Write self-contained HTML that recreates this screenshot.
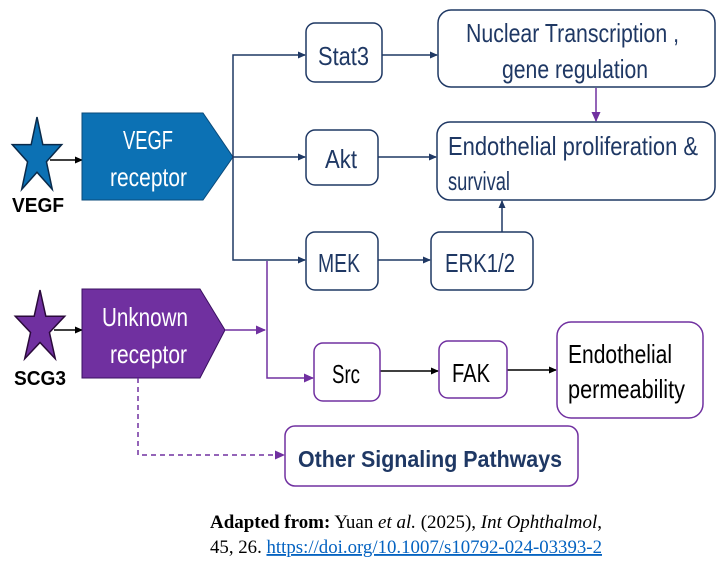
<!DOCTYPE html>
<html><head><meta charset="utf-8"><style>
html,body{margin:0;padding:0;background:#fff;}
svg{display:block;}
.t{font-family:"Liberation Sans",sans-serif;}
</style></head><body>
<svg width="716" height="568" viewBox="0 0 716 568" xmlns="http://www.w3.org/2000/svg">
<defs>
<marker id="an" markerWidth="8" markerHeight="8" refX="7" refY="4" orient="auto" markerUnits="userSpaceOnUse"><path d="M0,0.5 L8,4 L0,7.5z" fill="#1f3864"/></marker>
<marker id="ak" markerWidth="8" markerHeight="8" refX="7" refY="4" orient="auto" markerUnits="userSpaceOnUse"><path d="M0,0.5 L8,4 L0,7.5z" fill="#000"/></marker>
<marker id="ap" markerWidth="10" markerHeight="10" refX="9" refY="5" orient="auto" markerUnits="userSpaceOnUse"><path d="M0,0.5 L10,5 L0,9.5z" fill="#7030a0"/></marker>
</defs>
<g stroke-width="1.5" stroke="#000">
<polygon transform="translate(37,157) scale(26,40)" vector-effect="non-scaling-stroke" fill="#0c71b4" stroke="#0a2a4a" points="0,-1 0.2245,-0.309 0.951,-0.309 0.363,0.118 0.588,0.809 0,0.382 -0.588,0.809 -0.363,0.118 -0.951,-0.309 -0.2245,-0.309"/>
<polygon transform="translate(40,328) scale(26,38)" vector-effect="non-scaling-stroke" fill="#7030a0" stroke="#2a0a3a" points="0,-1 0.2245,-0.309 0.951,-0.309 0.363,0.118 0.588,0.809 0,0.382 -0.588,0.809 -0.363,0.118 -0.951,-0.309 -0.2245,-0.309"/>
<line x1="50" y1="160" x2="82" y2="160" marker-end="url(#ak)"/>
<line x1="54" y1="330" x2="82" y2="330" marker-end="url(#ak)"/>
</g>
<polygon points="82,113 203,113 233,157 203,200 82,200" fill="#0c71b4" stroke="#0a4a7a" stroke-width="1"/>
<polygon points="82,289 200,289 225,330 200,378 82,378" fill="#7030a0" stroke="#3a1060" stroke-width="1"/>
<g class="t" fill="#fff" font-size="26">
<text x="123" y="149" textLength="50" lengthAdjust="spacingAndGlyphs">VEGF</text><text x="110" y="186" textLength="77" lengthAdjust="spacingAndGlyphs">receptor</text>
<text x="102" y="326" textLength="86" lengthAdjust="spacingAndGlyphs">Unknown</text><text x="110" y="363" textLength="77" lengthAdjust="spacingAndGlyphs">receptor</text>
</g>
<g font-family="Liberation Sans,sans-serif" font-weight="bold" font-size="20" text-anchor="middle" fill="#000">
<text x="38" y="212" textLength="52" lengthAdjust="spacingAndGlyphs">VEGF</text>
<text x="40" y="385" textLength="52" lengthAdjust="spacingAndGlyphs">SCG3</text>
</g>
<g stroke="#1f3864" stroke-width="1.5" fill="none">
<polyline points="305,55 233,55 233,260 305,260" marker-end="url(#an)"/>
<line x1="305" y1="55" x2="305" y2="55" marker-end="url(#an)"/>
<line x1="233" y1="157" x2="305" y2="157" marker-end="url(#an)"/>
<line x1="382" y1="55" x2="437" y2="55" marker-end="url(#an)"/>
<line x1="378" y1="157" x2="436" y2="157" marker-end="url(#an)"/>
<line x1="378" y1="260" x2="430" y2="260" marker-end="url(#an)"/>
<line x1="502" y1="232" x2="502" y2="201" marker-end="url(#an)"/>
</g>
<g stroke="#7030a0" stroke-width="1.5" fill="none">
<line x1="596" y1="88" x2="596" y2="121" marker-end="url(#ap)"/>
<line x1="225" y1="330" x2="265" y2="330" marker-end="url(#ap)"/>
<polyline points="267,261 267,378 313,378" marker-end="url(#ap)"/>
<polyline points="138,378 138,455 284,455" stroke-dasharray="5,4" marker-end="url(#ap)"/>
</g>
<g stroke="#000" stroke-width="1.5">
<line x1="380" y1="371" x2="438" y2="371" marker-end="url(#ak)"/>
<line x1="507" y1="370" x2="556" y2="370" marker-end="url(#ak)"/>
</g>
<g fill="#fff" stroke="#1f3864" stroke-width="1.5">
<rect x="306" y="23" width="76" height="59" rx="9"/>
<rect x="306" y="130" width="72" height="55" rx="9"/>
<rect x="306" y="232" width="72" height="58" rx="9"/>
<rect x="438" y="10" width="277" height="77" rx="13"/>
<rect x="437" y="122" width="278" height="78" rx="13"/>
<rect x="431" y="232" width="102" height="58" rx="9"/>
</g>
<g fill="#fff" stroke="#7030a0" stroke-width="1.5">
<rect x="314" y="343" width="66" height="58" rx="9"/>
<rect x="439" y="341" width="68" height="57" rx="9"/>
<rect x="557" y="322" width="146" height="96" rx="14"/>
<rect x="285" y="426" width="293" height="60" rx="10"/>
</g>
<g class="t" font-size="26" fill="#1f3864">
<text x="318" y="65" textLength="51" lengthAdjust="spacingAndGlyphs">Stat3</text>
<text x="325" y="168" textLength="32" lengthAdjust="spacingAndGlyphs">Akt</text>
<text x="318" y="272" textLength="42" lengthAdjust="spacingAndGlyphs">MEK</text>
<text x="445" y="272" textLength="70" lengthAdjust="spacingAndGlyphs">ERK1/2</text>
<text x="466" y="42" textLength="213" lengthAdjust="spacingAndGlyphs">Nuclear Transcription ,</text>
<text x="502" y="78" textLength="146" lengthAdjust="spacingAndGlyphs">gene regulation</text>
<text x="448" y="155" textLength="250" lengthAdjust="spacingAndGlyphs">Endothelial proliferation &amp;</text>
<text x="448" y="190" textLength="62" lengthAdjust="spacingAndGlyphs">survival</text>
</g>
<g class="t" font-size="26" fill="#000">
<text x="332" y="383" textLength="28" lengthAdjust="spacingAndGlyphs">Src</text>
<text x="452" y="382" textLength="38" lengthAdjust="spacingAndGlyphs">FAK</text>
<text x="568" y="363" textLength="104" lengthAdjust="spacingAndGlyphs">Endothelial</text>
<text x="568" y="398" textLength="117" lengthAdjust="spacingAndGlyphs">permeability</text>
</g>
<text x="298" y="467" font-family="Liberation Sans,sans-serif" font-weight="bold" font-size="23" fill="#1f3864" textLength="264" lengthAdjust="spacingAndGlyphs">Other Signaling Pathways</text>
<g font-family="Liberation Serif,serif" font-size="18.5" fill="#000">
<text x="210" y="528" textLength="392" lengthAdjust="spacingAndGlyphs"><tspan font-weight="bold">Adapted from:</tspan> Yuan <tspan font-style="italic">et al.</tspan> (2025), <tspan font-style="italic">Int Ophthalmol</tspan>,</text>
<text x="210" y="553" textLength="392" lengthAdjust="spacingAndGlyphs">45, 26. <tspan fill="#0563c1" text-decoration="underline">https://doi.org/10.1007/s10792-024-03393-2</tspan></text>
</g>
</svg>
</body></html>
